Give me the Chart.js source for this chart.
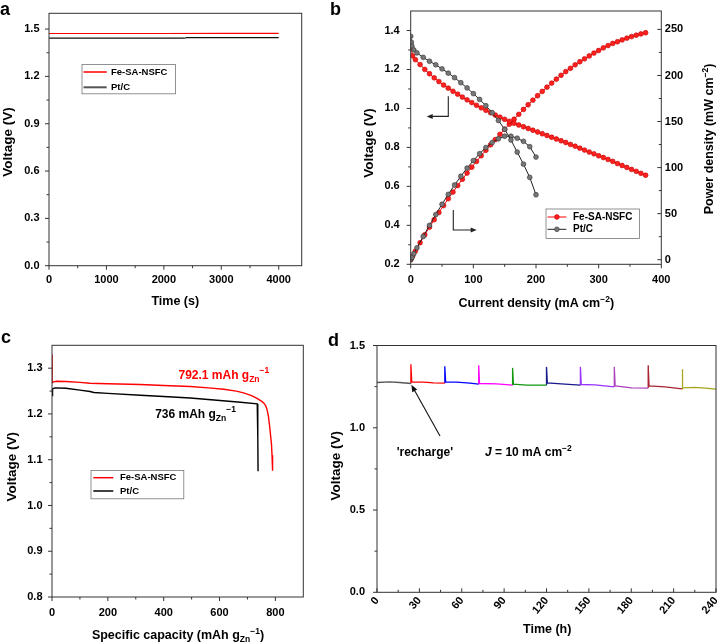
<!DOCTYPE html>
<html><head><meta charset="utf-8">
<script src="https://cdn.jsdelivr.net/npm/chart.js@4.4.1/dist/chart.umd.min.js"></script>
<style>
body{margin:0;background:#fff}
#wrap{position:relative;width:726px;height:643px;overflow:hidden;background:#fff}
canvas{position:absolute}
.lab{position:absolute;font:bold 18px 'Liberation Sans',Arial,sans-serif;line-height:18px;color:#000}
</style></head><body>
<div id="wrap">
<canvas id="ca" width="363" height="320" style="left:0;top:0"></canvas>
<canvas id="cb" width="363" height="320" style="left:363px;top:0"></canvas>
<canvas id="cc" width="320" height="323" style="left:0;top:320px"></canvas>
<canvas id="cd" width="406" height="323" style="left:320px;top:320px"></canvas>
<div class="lab" style="left:0;top:0">a</div>
<div class="lab" style="left:330px;top:0">b</div>
<div class="lab" style="left:1px;top:328px">c</div>
<div class="lab" style="left:328px;top:331px">d</div>
</div>
<script>
// ================= DATA =================
// Panel a: open-circuit voltage vs time
const aFeTime = [0, 1000, 2000, 3000, 4000];
const aFeVoltage = [1.472, 1.472, 1.472, 1.473, 1.473];
const aPtTime = [0, 1000, 2000, 2350, 2400, 3000, 4000];
const aPtVoltage = [1.442, 1.442, 1.442, 1.442, 1.446, 1.446, 1.446];
const aTimeTicks = [0, 1000, 2000, 3000, 4000];
const aTimeMinor = [500, 1500, 2500, 3500];
const aVoltTicks = [0, 0.3, 0.6, 0.9, 1.2, 1.5];
const aVoltMinor = [0.15, 0.45, 0.75, 1.05, 1.35];

// Panel b: polarization and power density
const bFeCurrent = [0,3,7.5,15,22.5,30,37.5,45,52.5,60,67.5,75,82.5,90,97.5,105,112.5,120,127.5,135,142.5,150,157.5,165,172.5,180,187.5,195,202.5,210,217.5,225,232.5,240,247.5,255,262.5,270,277.5,285,292.5,300,307.5,315,322.5,330,337.5,345,352.5,360,367.5,375];
const bFeVoltage = [1.32,1.27,1.25,1.225,1.20,1.178,1.157,1.138,1.12,1.104,1.088,1.073,1.058,1.044,1.030,1.016,1.003,0.990,0.978,0.966,0.955,0.944,0.934,0.924,0.915,0.906,0.897,0.888,0.879,0.870,0.861,0.852,0.843,0.834,0.825,0.815,0.806,0.796,0.786,0.776,0.767,0.757,0.748,0.738,0.728,0.717,0.707,0.697,0.687,0.677,0.667,0.657];
const bFePower = [0,3.8,9.4,18.4,27.0,35.3,43.4,51.2,58.8,66.2,73.4,80.5,87.3,94.0,100.4,106.7,112.8,118.8,124.7,130.4,136.1,141.6,147.1,152.5,157.8,163.1,168.2,173.2,178.0,182.7,187.3,191.7,196.0,200.2,204.2,207.8,211.6,214.9,218.1,221.2,224.3,227.1,230.0,232.5,234.8,236.6,238.6,240.5,242.2,243.7,245.1,246.4];
const bPtCurrent = [0,1,2,5,10,20,30,40,50,60,70,80,90,100,110,120,130,140,150,160,170,180,190,200];
const bPtVoltage = [1.37,1.34,1.32,1.30,1.285,1.262,1.242,1.224,1.203,1.181,1.158,1.132,1.105,1.076,1.046,1.014,0.978,0.938,0.893,0.838,0.776,0.714,0.646,0.557];
const bPtPower = [0,1.3,2.6,6.5,12.9,25.2,37.3,49.0,60.2,70.9,81.1,90.6,99.5,107.6,115.1,121.7,127.1,131.3,134.0,134.1,131.9,128.5,122.7,111.4];
const bCurTicks = [0, 100, 200, 300, 400];
const bCurMinor = [50, 150, 250, 350];
const bVoltTicks = [0.2, 0.4, 0.6, 0.8, 1.0, 1.2, 1.4];
const bVoltMinor = [0.3, 0.5, 0.7, 0.9, 1.1, 1.3];
const bPowTicks = [0, 50, 100, 150, 200, 250];
const bPowMinor = [25, 75, 125, 175, 225];

// Panel c: specific capacity
const cFeCapacity = [0,0.5,5,17,50,100,136,200,316,400,495,560,615,660,686,715,734,750,758,765,770,775,780,786,788,790];
const cFeVoltage = [1.33,1.268,1.27,1.2715,1.271,1.269,1.267,1.266,1.2645,1.262,1.26,1.257,1.254,1.25,1.246,1.24,1.234,1.228,1.224,1.218,1.21,1.195,1.17,1.134,1.11,1.076];
const cPtCapacity = [0,2,11,50,100,136,150,200,316,400,495,591,675,735,737,738];
const cPtVoltage = [1.24,1.255,1.257,1.256,1.252,1.249,1.247,1.245,1.241,1.238,1.235,1.230,1.2255,1.222,1.15,1.075];
const cCapTicks = [0, 200, 400, 600, 800];
const cCapMinor = [100, 300, 500, 700];
const cVoltTicks = [0.8, 0.9, 1.0, 1.1, 1.2, 1.3];
const cVoltMinor = [0.85, 0.95, 1.05, 1.15, 1.25];

// Panel d: long-term discharge with mechanical recharge every 24 h
const dCycleTimes = [
  [0, 9, 16, 24],
  [24, 24, 24.6, 33, 40, 48],
  [48, 48, 48.6, 56.4, 65.8, 72],
  [72, 72, 72.6, 84.7, 96],
  [96, 96, 96.6, 106, 120],
  [120, 120, 120.6, 133, 144],
  [144, 144, 144.6, 154.4, 168],
  [168, 168, 168.6, 180.3, 192],
  [192, 192, 192.6, 203.9, 216],
  [216, 216, 216.6, 225.1, 234.5, 240]
];
const dCycleVoltages = [
  [1.275, 1.279, 1.275, 1.269],
  [1.269, 1.386, 1.279, 1.277, 1.273, 1.271],
  [1.271, 1.374, 1.279, 1.277, 1.271, 1.265],
  [1.265, 1.380, 1.269, 1.267, 1.259],
  [1.259, 1.364, 1.265, 1.259, 1.259],
  [1.259, 1.370, 1.273, 1.265, 1.259],
  [1.259, 1.370, 1.263, 1.261, 1.249],
  [1.249, 1.370, 1.255, 1.243, 1.241],
  [1.241, 1.380, 1.255, 1.249, 1.237],
  [1.237, 1.356, 1.243, 1.245, 1.239, 1.235]
];
const dTimeTicks = [0, 30, 60, 90, 120, 150, 180, 210, 240];
const dTimeMinor = [15, 45, 75, 105, 135, 165, 195, 225];
const dVoltTicks = [0, 0.5, 1.0, 1.5];
const dVoltMinor = [0.25, 0.75, 1.25];

// ================= STYLE / HELPERS =================
const FONT = "'Liberation Sans', Arial, Helvetica, sans-serif";
const dColors = ['#555555','#ff0000','#0000ff','#ff00ff','#119911','#1a1a8c','#9933ff','#aa44bb','#aa2233','#a5a51e'];
Chart.defaults.font.family = FONT;
Chart.defaults.color = '#000';

const pts = (xs, ys) => xs.map((x, i) => ({x: x, y: ys[i]}));

function makeScale(o) {
  return {
    type: 'linear', position: o.position, min: o.min, max: o.max,
    grid: {display: false, drawTicks: false},
    border: {display: false},
    ticks: {
      autoSkip: false, padding: o.pad, color: '#000',
      font: {size: 11, weight: 'bold', family: FONT},
      callback: (v) => o.major.some(m => Math.abs(m - v) < 1e-9) ? o.fmt(v) : ''
    },
    afterBuildTicks: (s) => {
      s.ticks = o.major.concat(o.minor).sort((p, q) => p - q).map(v => ({value: v}));
    },
    afterFit: (s) => {
      if (o.width != null) s.width = o.width;
      if (o.height != null) s.height = o.height;
      s.paddingLeft = s.paddingRight = s.paddingTop = s.paddingBottom = 0;
    }
  };
}

function makeFrame(inward) {
  return {id: 'frame', afterDraw(chart) {
    const ctx = chart.ctx, a = chart.chartArea;
    ctx.save();
    ctx.strokeStyle = '#333'; ctx.lineWidth = 1;
    ctx.strokeRect(a.left, a.top, a.right - a.left, a.bottom - a.top);
    Object.values(chart.scales).forEach(s => {
      const inw = inward.includes(s.id);
      s.ticks.forEach(t => {
        const p = s.getPixelForValue(t.value);
        const L = (t.label !== '' ? 4 : 2.5) * (inw ? -1 : 1);
        ctx.beginPath();
        if (s.position === 'bottom') { ctx.moveTo(p, a.bottom); ctx.lineTo(p, a.bottom + L); }
        else if (s.position === 'left') { ctx.moveTo(a.left, p); ctx.lineTo(a.left - L, p); }
        else if (s.position === 'right') { ctx.moveTo(a.right, p); ctx.lineTo(a.right + L, p); }
        ctx.stroke();
      });
    });
    ctx.restore();
  }};
}

function fontStr(p, base) {
  return (p.it ? 'italic ' : '') + 'bold ' + (p.s || base) + 'px ' + FONT;
}
function drawRich(ctx, parts, x, y, align, rot, size, color) {
  ctx.save();
  ctx.translate(x, y);
  if (rot) ctx.rotate(rot);
  let w = 0;
  parts.forEach(p => { ctx.font = fontStr(p, size); w += ctx.measureText(p.t).width; });
  let cx = align === 'center' ? -w / 2 : 0;
  ctx.textAlign = 'left'; ctx.textBaseline = 'alphabetic';
  parts.forEach(p => {
    ctx.font = fontStr(p, size);
    ctx.fillStyle = p.c || color || '#000';
    ctx.fillText(p.t, cx, p.dy || 0);
    cx += ctx.measureText(p.t).width;
  });
  ctx.restore();
}
function arrowHead(ctx, x1, y1, x2, y2, len, w) {
  const ang = Math.atan2(y2 - y1, x2 - x1);
  ctx.beginPath();
  ctx.moveTo(x2, y2);
  ctx.lineTo(x2 - len * Math.cos(ang) + w * Math.sin(ang), y2 - len * Math.sin(ang) - w * Math.cos(ang));
  ctx.lineTo(x2 - len * Math.cos(ang) - w * Math.sin(ang), y2 - len * Math.sin(ang) + w * Math.cos(ang));
  ctx.closePath();
  ctx.fill();
}
function legendBox(ctx, x0, y0, x1, y1) {
  ctx.save(); ctx.strokeStyle = '#777'; ctx.lineWidth = 0.8;
  ctx.strokeRect(x0 + 0.5, y0 + 0.5, x1 - x0, y1 - y0); ctx.restore();
}
function legendText(ctx, t, x, y, size) {
  ctx.save(); ctx.font = 'bold ' + size + 'px ' + FONT; ctx.fillStyle = '#000';
  ctx.textAlign = 'left'; ctx.textBaseline = 'middle'; ctx.fillText(t, x, y); ctx.restore();
}
function hLine(ctx, x0, x1, y, color, w) {
  ctx.save(); ctx.strokeStyle = color; ctx.lineWidth = w;
  ctx.beginPath(); ctx.moveTo(x0, y); ctx.lineTo(x1, y); ctx.stroke(); ctx.restore();
}
const baseOpts = (pad) => ({
  responsive: false, animation: false, devicePixelRatio: 1, events: [],
  layout: {padding: pad},
  plugins: {legend: {display: false}, tooltip: {enabled: false}}
});
const f1 = v => v.toFixed(1);
const f0 = v => String(Math.round(v));
const MINUS = '\u2212';

// ================= PANEL a =================
new Chart(document.getElementById('ca'), {
  type: 'line',
  data: {datasets: [
    {label: 'Fe-SA-NSFC', data: pts(aFeTime, aFeVoltage), borderColor: '#ff0000', borderWidth: 1.2, pointRadius: 0},
    {label: 'Pt/C', data: pts(aPtTime, aPtVoltage), borderColor: '#111', borderWidth: 1.2, pointRadius: 0}
  ]},
  options: Object.assign(baseOpts({left: 0, right: 61.3, top: 13.3, bottom: 0}), {
    scales: {
      x: makeScale({position: 'bottom', min: 0, max: 4400, major: aTimeTicks, minor: aTimeMinor, fmt: f0, pad: 7.5, height: 54.3}),
      y: makeScale({position: 'left', min: 0, max: 1.6, major: aVoltTicks, minor: aVoltMinor, fmt: f1, pad: 9.5, width: 49})
    }
  }),
  plugins: [makeFrame([]), {id: 'decoA', afterDraw(c) {
    const ctx = c.ctx;
    drawRich(ctx, [{t: 'Voltage (V)'}], 12, 142, 'center', -Math.PI / 2, 13.5);
    drawRich(ctx, [{t: 'Time (s)'}], 175.3, 304.5, 'center', 0, 12.5);
    legendBox(ctx, 81.5, 64, 175, 93.3);
    hLine(ctx, 83.5, 106.7, 72, '#ff0000', 1.5);
    hLine(ctx, 83.5, 106.7, 87.3, '#555', 2);
    legendText(ctx, 'Fe-SA-NSFC', 111, 72, 9.5);
    legendText(ctx, 'Pt/C', 111, 87.3, 9.5);
  }}]
});

// ================= PANEL b =================
const feStyle = {borderColor: '#ff0000', pointBackgroundColor: '#ff2020', pointBorderColor: '#c00000', pointBorderWidth: 0.6, pointRadius: 2.4, borderWidth: 1};
const ptStyle = {borderColor: '#222', pointBackgroundColor: '#777', pointBorderColor: '#333', pointBorderWidth: 0.6, pointRadius: 2.4, borderWidth: 1};
new Chart(document.getElementById('cb'), {
  type: 'line',
  data: {datasets: [
    Object.assign({label: 'Pt/C V', data: pts(bPtCurrent, bPtVoltage), yAxisID: 'y'}, ptStyle),
    Object.assign({label: 'Pt/C P', data: pts(bPtCurrent, bPtPower), yAxisID: 'y1'}, ptStyle),
    Object.assign({label: 'Fe-SA-NSFC V', data: pts(bFeCurrent, bFeVoltage), yAxisID: 'y'}, feStyle),
    Object.assign({label: 'Fe-SA-NSFC P', data: pts(bFeCurrent, bFePower), yAxisID: 'y1'}, feStyle)
  ]},
  options: Object.assign(baseOpts({left: 0, right: 0, top: 11, bottom: 0}), {
    scales: {
      x: makeScale({position: 'bottom', min: 0, max: 400, major: bCurTicks, minor: bCurMinor, fmt: f0, pad: 9.5, height: 55.7}),
      y: makeScale({position: 'left', min: 0.2, max: 1.5, major: bVoltTicks, minor: bVoltMinor, fmt: f1, pad: 11, width: 47.7}),
      y1: makeScale({position: 'right', min: -5, max: 270, major: bPowTicks, minor: bPowMinor, fmt: f0, pad: 3.5, width: 64.7})
    }
  }),
  plugins: [makeFrame(['y1']), {id: 'decoB', afterDraw(c) {
    const ctx = c.ctx, xs = c.scales.x, ys = c.scales.y;
    drawRich(ctx, [{t: 'Voltage (V)'}], 9.5, 143, 'center', -Math.PI / 2, 13.5);
    drawRich(ctx, [{t: 'Power density (mW cm'}, {t: MINUS + '2', s: 8.5, dy: -5}, {t: ')'}], 349.5, 139, 'center', -Math.PI / 2, 12.5);
    drawRich(ctx, [{t: 'Current density (mA cm'}, {t: MINUS + '2', s: 8.5, dy: -5}, {t: ')'}], 173.3, 307, 'center', 0, 12.5);
    // arrows indicating axes
    ctx.save(); ctx.strokeStyle = '#222'; ctx.fillStyle = '#222'; ctx.lineWidth = 1.1;
    let p1 = [xs.getPixelForValue(60), ys.getPixelForValue(1.062)];
    let p2 = [xs.getPixelForValue(60), ys.getPixelForValue(0.959)];
    let p3 = [xs.getPixelForValue(25.5), ys.getPixelForValue(0.959)];
    ctx.beginPath(); ctx.moveTo(p1[0], p1[1]); ctx.lineTo(p2[0], p2[1]); ctx.lineTo(p3[0] + 4, p3[1]); ctx.stroke();
    arrowHead(ctx, p2[0], p2[1], p3[0], p3[1], 6, 2.5);
    p1 = [xs.getPixelForValue(68), ys.getPixelForValue(0.479)];
    p2 = [xs.getPixelForValue(68), ys.getPixelForValue(0.376)];
    p3 = [xs.getPixelForValue(105.3), ys.getPixelForValue(0.376)];
    ctx.beginPath(); ctx.moveTo(p1[0], p1[1]); ctx.lineTo(p2[0], p2[1]); ctx.lineTo(p3[0] - 4, p3[1]); ctx.stroke();
    arrowHead(ctx, p2[0], p2[1], p3[0], p3[1], 6, 2.5);
    ctx.restore();
    // legend
    legendBox(ctx, 182.5, 208.5, 276, 238);
    [[217, feStyle], [229.3, ptStyle]].forEach(([y, st]) => {
      hLine(ctx, 184.5, 203.3, y, st.borderColor, 1);
      ctx.save(); ctx.beginPath(); ctx.arc(193.9, y, 2.4, 0, Math.PI * 2);
      ctx.fillStyle = st.pointBackgroundColor; ctx.fill();
      ctx.strokeStyle = st.pointBorderColor; ctx.lineWidth = 0.6; ctx.stroke(); ctx.restore();
    });
    legendText(ctx, 'Fe-SA-NSFC', 210, 217, 10);
    legendText(ctx, 'Pt/C', 210, 229.3, 10);
  }}]
});

// ================= PANEL c =================
new Chart(document.getElementById('cc'), {
  type: 'line',
  data: {datasets: [
    {label: 'Fe-SA-NSFC', data: pts(cFeCapacity, cFeVoltage), borderColor: '#ff0000', borderWidth: 1.4, pointRadius: 0},
    {label: 'Pt/C', data: pts(cPtCapacity, cPtVoltage), borderColor: '#000', borderWidth: 1.4, pointRadius: 0}
  ]},
  options: Object.assign(baseOpts({left: 0, right: 16.7, top: 25.3, bottom: 0}), {
    scales: {
      x: makeScale({position: 'bottom', min: 0, max: 900, major: cCapTicks, minor: cCapMinor, fmt: f0, pad: 9.5, height: 46}),
      y: makeScale({position: 'left', min: 0.8, max: 1.35, major: cVoltTicks, minor: cVoltMinor, fmt: f1, pad: 9.5, width: 52})
    }
  }),
  plugins: [makeFrame([]), {id: 'decoC', afterDraw(c) {
    const ctx = c.ctx, xs = c.scales.x, ys = c.scales.y;
    drawRich(ctx, [{t: 'Voltage (V)'}], 16, 146.7, 'center', -Math.PI / 2, 13.5);
    drawRich(ctx, [{t: 'Specific capacity (mAh g'}, {t: 'Zn', s: 8.5, dy: 3}, {t: MINUS + '1', s: 8.5, dy: -5}, {t: ')'}], 178, 318.5, 'center', 0, 12.5);
    drawRich(ctx, [{t: '792.1 mAh g'}, {t: 'Zn', s: 8.5, dy: 3}, {t: MINUS + '1', s: 8.5, dy: -6}], xs.getPixelForValue(453), ys.getPixelForValue(1.2774), 'left', 0, 12, '#ff0000');
    drawRich(ctx, [{t: '736 mAh g'}, {t: 'Zn', s: 8.5, dy: 3}, {t: MINUS + '1', s: 8.5, dy: -6}], xs.getPixelForValue(369.5), ys.getPixelForValue(1.1914), 'left', 0, 12, '#000');
    legendBox(ctx, 90.5, 150, 183.3, 178.3);
    hLine(ctx, 93.3, 113.3, 157.7, '#ff0000', 1.5);
    hLine(ctx, 93.3, 113.3, 171, '#000', 1.5);
    legendText(ctx, 'Fe-SA-NSFC', 120, 157.7, 9.5);
    legendText(ctx, 'Pt/C', 120, 171, 9.5);
  }}]
});

// ================= PANEL d =================
new Chart(document.getElementById('cd'), {
  type: 'line',
  data: {datasets: dCycleTimes.map((ts, i) => ({
    label: 'cycle ' + i, data: pts(ts, dCycleVoltages[i]),
    borderColor: dColors[i], borderWidth: 1.3, pointRadius: 0
  }))},
  options: Object.assign(baseOpts({left: 0, right: 10, top: 25.5, bottom: 0}), {
    scales: {
      x: makeScale({position: 'bottom', min: 0, max: 240, major: dTimeTicks, minor: dTimeMinor, fmt: f0, pad: 2, height: 50.7}),
      y: makeScale({position: 'left', min: 0, max: 1.5, major: dVoltTicks, minor: dVoltMinor, fmt: f1, pad: 12, width: 57})
    }
  }),
  plugins: [makeFrame(['x']), {id: 'decoD', afterDraw(c) {
    const ctx = c.ctx, xs = c.scales.x, ys = c.scales.y;
    drawRich(ctx, [{t: 'Voltage (V)'}], 19.5, 145.8, 'center', -Math.PI / 2, 13.5);
    drawRich(ctx, [{t: 'Time (h)'}], 227.2, 312.5, 'center', 0, 12.5);
    drawRich(ctx, [{t: "'recharge'"}], xs.getPixelForValue(13.9), ys.getPixelForValue(0.827), 'left', 0, 12);
    drawRich(ctx, [{t: 'J', it: true}, {t: ' = 10 mA cm'}, {t: MINUS + '2', s: 8.5, dy: -5}], xs.getPixelForValue(76.5), ys.getPixelForValue(0.827), 'left', 0, 12);
    const ax0 = xs.getPixelForValue(44.6), ay0 = ys.getPixelForValue(0.95);
    const ax1 = xs.getPixelForValue(24.3), ay1 = ys.getPixelForValue(1.262);
    ctx.save(); ctx.strokeStyle = '#111'; ctx.fillStyle = '#111'; ctx.lineWidth = 1.1;
    ctx.beginPath(); ctx.moveTo(ax0, ay0); ctx.lineTo(ax1 + (ax0 - ax1) * 0.08, ay1 + (ay0 - ay1) * 0.08); ctx.stroke();
    arrowHead(ctx, ax0, ay0, ax1, ay1, 7, 2.8);
    ctx.restore();
  }}]
});
</script>
</body></html>
